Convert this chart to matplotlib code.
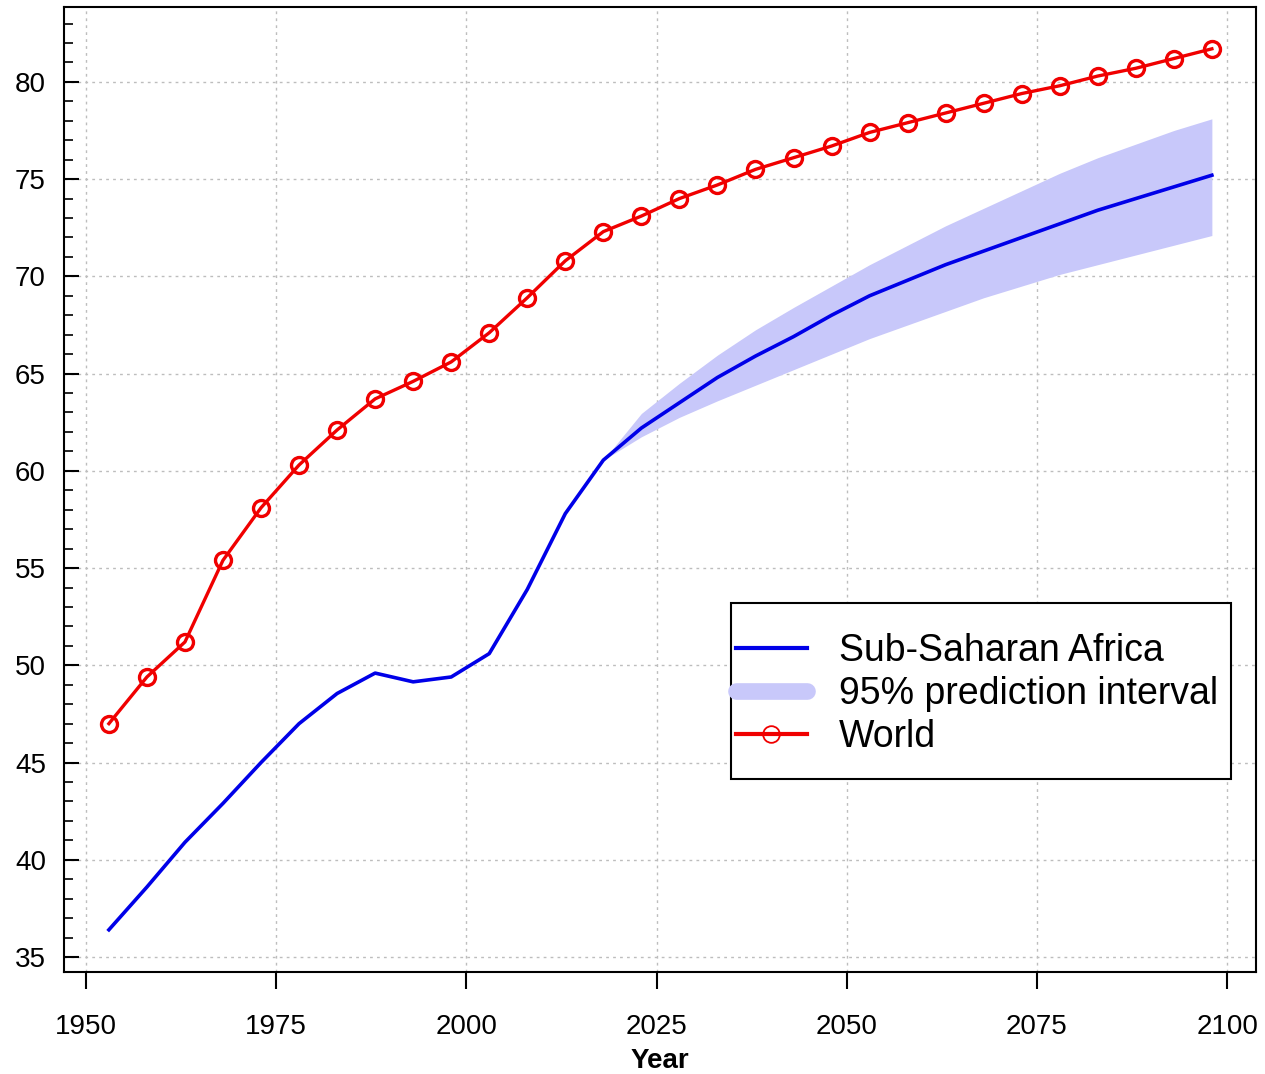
import matplotlib
matplotlib.use("Agg")
import matplotlib.pyplot as plt
from matplotlib.lines import Line2D
from matplotlib.patches import Rectangle
from matplotlib.ticker import MultipleLocator

plt.rcParams['font.family'] = ['Liberation Sans', 'DejaVu Sans']

# ---- data ----
years = [1953, 1958, 1963, 1968, 1973, 1978, 1983, 1988, 1993, 1998,
         2003, 2008, 2013, 2018, 2023, 2028, 2033, 2038, 2043, 2048,
         2053, 2058, 2063, 2068, 2073, 2078, 2083, 2088, 2093, 2098]
world = [47.0, 49.4, 51.2, 55.4, 58.1, 60.3, 62.1, 63.7, 64.6, 65.6,
         67.1, 68.9, 70.8, 72.3, 73.1, 74.0, 74.7, 75.5, 76.1, 76.7,
         77.4, 77.9, 78.4, 78.9, 79.4, 79.8, 80.3, 80.7, 81.2, 81.7]
ssa = [36.4, 38.6, 40.9, 42.9, 45.0, 47.0, 48.55, 49.6, 49.15, 49.4,
       50.6, 53.9, 57.8, 60.55, 62.2, 63.5, 64.8, 65.9, 66.9, 68.0,
       69.0, 69.8, 70.6, 71.3, 72.0, 72.7, 73.4, 74.0, 74.6, 75.2]
proj_years = [2018, 2023, 2028, 2033, 2038, 2043, 2048, 2053, 2058,
              2063, 2068, 2073, 2078, 2083, 2088, 2093, 2098]
pi_low = [60.55, 61.75, 62.75, 63.6, 64.4, 65.2, 66.0, 66.8, 67.5,
          68.2, 68.9, 69.5, 70.1, 70.6, 71.1, 71.6, 72.1]
pi_high = [60.55, 62.95, 64.5, 65.95, 67.25, 68.4, 69.5, 70.6, 71.6,
           72.6, 73.5, 74.4, 75.3, 76.1, 76.8, 77.5, 78.1]
x_ticks = [1950, 1975, 2000, 2025, 2050, 2075, 2100]
y_ticks = [35, 40, 45, 50, 55, 60, 65, 70, 75, 80]
labels = ["Sub-Saharan Africa", "95% prediction interval", "World"]

BLUE = '#0000e8'
RED = '#f00000'
BAND = '#c8c8fa'

fig = plt.figure(figsize=(12.65, 10.74), dpi=100)
ax = fig.add_axes([64/1265, 1-972/1074, (1256-64)/1265, (972-7)/1074])

ax.fill_between(proj_years, pi_low, pi_high, color=BAND, lw=0, zorder=2)
ax.plot(years, ssa, color=BLUE, lw=2.6, zorder=3)
ax.plot(years, world, color=RED, lw=2.4, marker='o', ms=11.5, mfc='none',
        mec=RED, mew=2.4, zorder=4)

ax.set_xlim(1947.1, 2103.8)
ax.set_ylim(34.23, 83.85)
ax.set_xticks(x_ticks)
ax.set_yticks(y_ticks)
ax.yaxis.set_minor_locator(MultipleLocator(1))
ax.grid(True, which='major', color='#bdbdbd', linestyle=(0, (2, 3)), lw=1.0)
ax.set_axisbelow(True)

ax.tick_params(axis='x', direction='out', length=12, width=1.5, pad=18,
               labelsize=20)
ax.tick_params(axis='y', which='major', direction='in', length=11, width=1.5,
               pad=13, labelsize=20)
ax.tick_params(axis='y', which='minor', direction='in', length=6.5, width=1.2)
for s in ax.spines.values():
    s.set_linewidth(1.5)

ax.set_xlabel("Year", fontsize=20, fontweight='bold', labelpad=6)

handles = [
    Line2D([], [], color=BLUE, lw=3.0),
    Line2D([], [], color=BAND, lw=12, solid_capstyle='round'),
    Line2D([], [], color=RED, lw=3.0, marker='o', ms=12, mfc='none',
           mec=RED, mew=1.3),
]
x0 = (731-64)/1192
y1 = 1 - (603-7)/965
x1 = (1231-64)/1192
y0 = 1 - (779-7)/965
ax.add_patch(Rectangle((x0, y0), x1-x0, y1-y0, transform=ax.transAxes,
                       facecolor='white', edgecolor='black', lw=1.5, zorder=5))
leg = ax.legend(handles, labels, loc='center left',
                bbox_to_anchor=(x0 + 0.004, (y0+y1)/2 - 0.003),
                frameon=False, fontsize=27, handlelength=1.9,
                handletextpad=0.85, labelspacing=0.19, borderpad=0,
                borderaxespad=0)
leg.set_zorder(6)

fig.savefig("out.png", dpi=100)
